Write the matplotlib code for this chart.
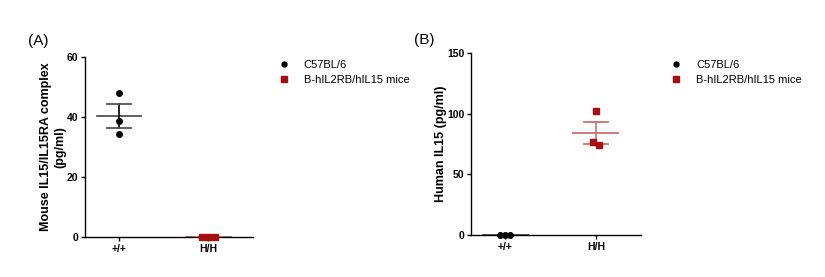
import numpy as np
import matplotlib
matplotlib.use('Agg')
import matplotlib.pyplot as plt
from matplotlib.lines import Line2D

plt.rcParams['font.family'] = ['Liberation Sans', 'DejaVu Sans']

groups = ['+/+', 'H/H']
series = ['C57BL/6', 'B-hIL2RB/hIL15 mice']

# panel A: mouse IL15/IL15RA complex (pg/ml)
mouse_wt = [47.9, 38.8, 34.4]
mouse_hh = [0.0, 0.0, 0.0]
# panel B: human IL15 (pg/ml)
human_wt = [0.0, 0.0, 0.0]
human_hh = [102.4, 77.0, 74.1]

black = '#000000'
red = '#a50f0f'
black_line = '#505050'
red_line = '#cc7070'


def draw_group(ax, x, vals, offsets, color, marker, ms, line_color, err_color):
    vals = np.array(vals)
    mean = vals.mean()
    sem = vals.std(ddof=1) / np.sqrt(len(vals))
    ax.plot([x - 0.25, x + 0.25], [mean, mean], color=line_color, lw=1.3, zorder=2, clip_on=False)
    ax.plot([x, x], [mean - sem, mean + sem], color=err_color, lw=1.2, zorder=2)
    for v in (mean - sem, mean + sem):
        if sem > 0:
            ax.plot([x - 0.13, x + 0.13], [v, v], color=line_color, lw=1.3, zorder=2)
    ax.plot(x + np.array(offsets), vals, linestyle='none', marker=marker, color=color,
            ms=ms, zorder=3, clip_on=False)


def style_axes(ax, ymax, step, ylabel, pad):
    ax.set_xlim(-0.38, 1.5)
    ax.set_ylim(0, ymax)
    ax.set_yticks(np.arange(0, ymax + 1, step))
    ax.set_xticks([0, 1])
    ax.set_xticklabels(groups, fontweight='bold')
    for lab in ax.get_yticklabels():
        lab.set_fontweight('bold')
    ax.tick_params(labelsize=7.5, length=3, width=1, pad=2)
    for s in ['top', 'right']:
        ax.spines[s].set_visible(False)
    for s in ['left', 'bottom']:
        ax.spines[s].set_linewidth(1)
    ax.set_ylabel(ylabel, fontsize=9, fontweight='bold', labelpad=pad, linespacing=1.25)


fig = plt.figure(figsize=(8.25, 2.77), dpi=100)
ax1 = fig.add_axes([0.103, 0.1444, 0.2036, 0.6496])
ax2 = fig.add_axes([0.571, 0.1516, 0.206, 0.656])

draw_group(ax1, 0, mouse_wt, [0, 0, 0], black, 'o', 4, black_line, black)
draw_group(ax1, 1, mouse_hh, [-0.07, 0, 0.07], red, 's', 4, red_line, red_line)
style_axes(ax1, 60, 20, 'Mouse IL15/IL15RA complex\n(pg/ml)', 0)

draw_group(ax2, 0, human_wt, [-0.06, 0, 0.05], black, 'o', 4, black_line, black)
draw_group(ax2, 1, human_hh, [0, -0.03, 0.03], red, 's', 4.5, red_line, red_line)
style_axes(ax2, 150, 50, 'Human IL15 (pg/ml)', 0)

fig.text(0.046, 0.852, '(A)', fontsize=11, ha='center', va='center')
fig.text(0.514, 0.856, '(B)', fontsize=11, ha='center', va='center')

handles = [Line2D([], [], linestyle='none', marker='o', color=black, ms=3.5),
           Line2D([], [], linestyle='none', marker='s', color=red, ms=4)]
for ax, xpos in [(ax1, 0.337), (ax2, 0.813)]:
    ax.legend(handles, series, loc='upper left', bbox_to_anchor=(xpos, 0.782),
              bbox_transform=fig.transFigure, frameon=False, fontsize=8,
              handlelength=1.0, handletextpad=1.3, labelspacing=0.45,
              borderaxespad=0, borderpad=0)

fig.savefig('out.png', dpi=100)
